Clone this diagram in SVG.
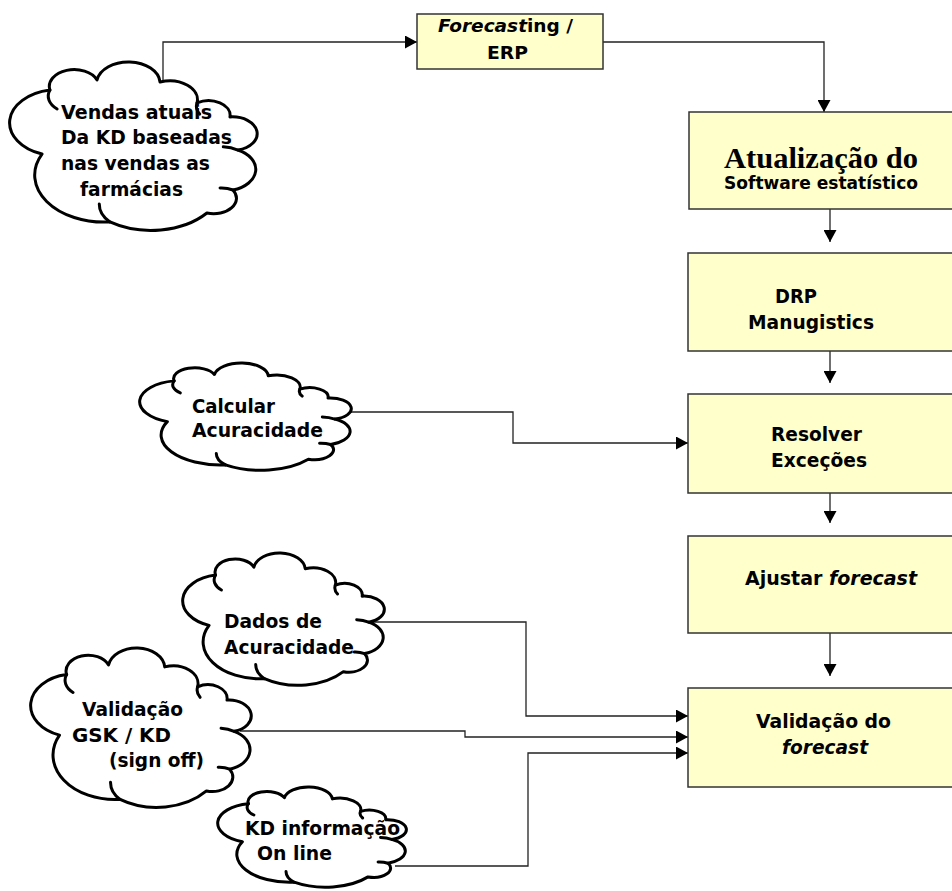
<svg xmlns="http://www.w3.org/2000/svg" width="952" height="891" viewBox="0 0 952 891">
<defs>
<style>
.box{fill:#FFFFCC;stroke:#333;stroke-width:1.5}
.cl{fill:#fff;stroke:#000;stroke-width:3;vector-effect:non-scaling-stroke;stroke-linejoin:round}
.ci{fill:none;stroke:#000;stroke-width:3;vector-effect:non-scaling-stroke;stroke-linecap:round}
.ln{fill:none;stroke:#222;stroke-width:1.3}
.t{font-family:"DejaVu Sans","Verdana",sans-serif;font-weight:bold;font-size:20px;fill:#000}
.s{font-size:18px}
.it{font-style:italic}
.serif{font-family:"Liberation Serif","Times New Roman",serif;font-weight:bold;font-size:30px;fill:#000}
</style>
<marker id="ah" viewBox="0 0 12 13" refX="12" refY="6.5" markerWidth="12" markerHeight="13" markerUnits="userSpaceOnUse" orient="auto">
<path d="M0,0 L12,6.5 L0,13 Z" fill="#000"/>
</marker>
<g id="cloudShape">
<path class="cl" d="M16.1,16.7 A10,10 0 0 1 35.1,10.7 A12.8,12.8 0 0 1 60.5,11.9 A11.2,11.2 0 0 1 75.4,24.4 A8.7,8.7 0 0 1 88.7,32.7 A10,10 0 0 1 91.9,52.4 A12.8,12.8 0 0 1 89.9,76.2 A9.2,9.2 0 0 1 79.4,89.9 A29.7,29.7 0 0 1 40.3,95.2 A28,28 0 0 1 12.9,54.8 A19.8,19.8 0 0 1 16.1,16.7 Z"/>
<path class="ci" d="M16.1,16.7 A10,10 0 0 0 19,28 M40.3,95.2 A15,15 0 0 1 36,84.5 M91.9,52.4 A12.8,12.8 0 0 0 86,50.5 M75.4,24.4 A8.7,8.7 0 0 0 76.5,31 M89.9,76.2 A9.2,9.2 0 0 0 84.7,75"/>
</g>
</defs>

<g id="connectors">
<path class="ln" d="M163,95 V42 H417" marker-end="url(#ah)"/>
<path class="ln" d="M603,42 H824 V112" marker-end="url(#ah)"/>
<path class="ln" d="M830,209 V242" marker-end="url(#ah)"/>
<path class="ln" d="M830,351 V383" marker-end="url(#ah)"/>
<path class="ln" d="M830,493 V523" marker-end="url(#ah)"/>
<path class="ln" d="M830,633 V676" marker-end="url(#ah)"/>
<path class="ln" d="M340,412 H513 V443 H688" marker-end="url(#ah)"/>
<path class="ln" d="M370,622 H526 V716 H688" marker-end="url(#ah)"/>
<path class="ln" d="M240,731 H465 V737 H688" marker-end="url(#ah)"/>
<path class="ln" d="M395,866 H528 V753 H688" marker-end="url(#ah)"/>
</g>

<g id="cloud-vendas">
<use href="#cloudShape" transform="translate(10,62) scale(2.48,1.68)"/>
<text class="t" x="61" y="119" textLength="151" lengthAdjust="spacingAndGlyphs">Vendas atuais</text>
<text class="t" x="61" y="144" textLength="171" lengthAdjust="spacingAndGlyphs">Da KD baseadas</text>
<text class="t" x="61" y="170" textLength="149" lengthAdjust="spacingAndGlyphs">nas vendas as</text>
<text class="t" x="80" y="196" textLength="103" lengthAdjust="spacingAndGlyphs">farmácias</text>
</g>

<g id="node-forecasting">
<rect class="box" x="417" y="14" width="186" height="55"/>
<text class="t s" x="438" y="32" textLength="135" lengthAdjust="spacingAndGlyphs"><tspan class="it">Forecast</tspan>ing /</text>
<text class="t s" x="487" y="59" textLength="41" lengthAdjust="spacingAndGlyphs">ERP</text>
</g>

<g id="node-atualizacao">
<rect class="box" x="689" y="112" width="280" height="97"/>
<text class="serif" x="724" y="168" textLength="194" lengthAdjust="spacingAndGlyphs">Atualização do</text>
<text class="t" x="724" y="189" style="font-size:17px" textLength="194" lengthAdjust="spacingAndGlyphs">Software estatístico</text>
</g>

<g id="node-drp">
<rect class="box" x="688" y="253" width="280" height="98"/>
<text class="t" x="775" y="303" textLength="42" lengthAdjust="spacingAndGlyphs">DRP</text>
<text class="t" x="748" y="329" textLength="126" lengthAdjust="spacingAndGlyphs">Manugistics</text>
</g>

<g id="node-resolver">
<rect class="box" x="688" y="394" width="280" height="99"/>
<text class="t" x="771" y="441" textLength="91" lengthAdjust="spacingAndGlyphs">Resolver</text>
<text class="t" x="771" y="467" textLength="96" lengthAdjust="spacingAndGlyphs">Exceções</text>
</g>

<g id="node-ajustar">
<rect class="box" x="688" y="536" width="280" height="97"/>
<text class="t" x="745" y="585" textLength="172" lengthAdjust="spacingAndGlyphs">Ajustar <tspan class="it">forecast</tspan></text>
</g>

<g id="node-validacao">
<rect class="box" x="688" y="688" width="280" height="99"/>
<text class="t" x="756" y="728" textLength="135" lengthAdjust="spacingAndGlyphs">Validação do</text>
<text class="t it" x="782" y="754" textLength="86" lengthAdjust="spacingAndGlyphs">forecast</text>
</g>

<g id="cloud-calcular">
<use href="#cloudShape" transform="translate(140,363) scale(2.12,1.07)"/>
<text class="t" x="192" y="413" textLength="83" lengthAdjust="spacingAndGlyphs">Calcular</text>
<text class="t" x="192" y="437" textLength="131" lengthAdjust="spacingAndGlyphs">Acuracidade</text>
</g>

<g id="cloud-dados">
<use href="#cloudShape" transform="translate(183,553) scale(2.02,1.32)"/>
<text class="t" x="224" y="628" textLength="98" lengthAdjust="spacingAndGlyphs">Dados de</text>
<text class="t" x="224" y="654" textLength="130" lengthAdjust="spacingAndGlyphs">Acuracidade</text>
</g>

<g id="cloud-gsk">
<use href="#cloudShape" transform="translate(31,648) scale(2.21,1.59)"/>
<text class="t" x="82" y="716" textLength="101" lengthAdjust="spacingAndGlyphs">Validação</text>
<text class="t" x="72" y="742" textLength="99" lengthAdjust="spacingAndGlyphs">GSK / KD</text>
<text class="t" x="109" y="767" textLength="95" lengthAdjust="spacingAndGlyphs">(sign off)</text>
</g>

<g id="cloud-kd">
<use href="#cloudShape" transform="translate(218,787) scale(1.89,1.0)"/>
<text class="t" x="245" y="835" textLength="155" lengthAdjust="spacingAndGlyphs">KD informação</text>
<text class="t" x="257" y="860" textLength="75" lengthAdjust="spacingAndGlyphs">On line</text>
</g>
</svg>
